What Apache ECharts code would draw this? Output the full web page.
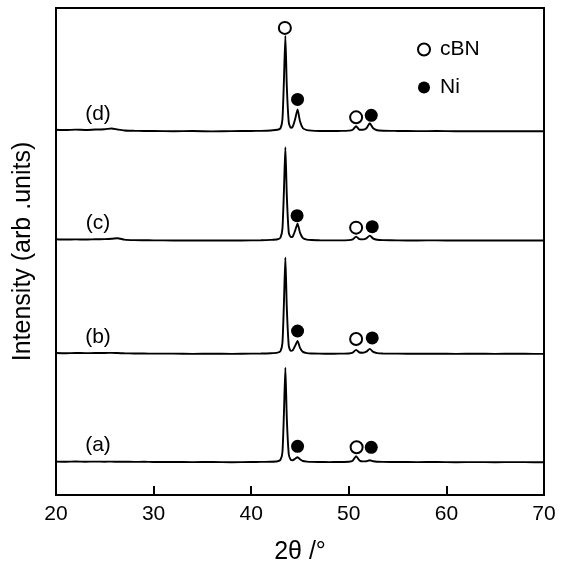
<!DOCTYPE html>
<html>
<head>
<meta charset="utf-8">
<script src="https://cdn.jsdelivr.net/npm/echarts@6/dist/echarts.min.js"></script>
<style>html,body{margin:0;padding:0;background:#fff}#c{width:570px;height:570px}</style>
</head>
<body>
<div id="c"></div>
<script>
// 2θ sampling grid shared by all four patterns
const twoTheta = [20,21,22,23,24,25,25.7,26.3,27,28,29,30,32,34,36,38,40,41,42,42.7,43.0,43.2,43.35,43.5,43.65,43.85,44.05,44.25,44.5,44.75,45.0,45.3,45.7,46.2,47,48,49,50,50.4,50.75,51.1,51.45,51.8,52.15,52.5,52.9,53.5,55,57,59,61,63,65,67,69,70];

// Intensities above each baseline (arb. units)
const intensityA = [0.6,0.4,0.7,0.5,0.6,0.5,0.6,0.4,0.5,0.3,0.4,0.2,0.3,0.1,0.2,0.0,0.2,0.3,0.5,1.0,2.5,10,48,95,44,8,2.5,2.0,3.5,5,3,1.2,0.6,0.3,0.2,0.1,0.2,0.4,1.5,6,1.8,0.8,1.0,2,1.0,0.5,0.3,0.2,0.1,0.2,0.0,0.1,0.0,0.1,0.0,0.0];
const intensityB = [0.8,0.6,0.9,0.7,0.8,0.9,1.0,0.8,0.6,0.4,0.3,0.2,0.2,0.0,0.1,0.0,0.2,0.3,0.6,1.2,2.8,11,50,97,46,8,3,3.5,8,13,6,2,0.8,0.4,0.2,0.1,0.2,0.4,1.2,4,1.4,1.2,2.2,5,2,0.8,0.4,0.2,0.1,0.2,0.0,0.1,0.0,0.1,0.0,0.0];
const intensityC = [1.3,1.0,1.2,1.0,1.3,1.5,1.8,2.4,1.0,0.4,0.3,0.2,0.1,0.0,0.1,0.0,0.2,0.3,0.7,1.3,3,12,49,94,45,8,3.5,4,10,17,8,2.5,1.0,0.5,0.3,0.2,0.2,0.4,1.2,4,1.4,1.2,2.2,5,2,0.8,0.4,0.2,0.1,0.2,0.0,0.1,0.0,0.1,0.0,0.0];
const intensityD = [1.5,1.2,1.6,1.3,1.7,2.0,2.8,1.8,0.8,0.5,0.3,0.2,0.0,0.2,-0.1,0.1,0.3,0.4,0.8,1.5,3,12,50,96,45,9,3.5,4.5,12,22,10,3,1.2,0.6,0.3,0.2,0.3,0.6,1.5,5,1.5,1.5,3,8,3,1,0.5,0.3,0.1,0.2,0.0,0.1,0.0,0.1,0.0,0.0];

const sampleNames = ['(a)','(b)','(c)','(d)'];
const baselines = [33, 142, 256, 366];
const labelPos = [[24.3, 17], [24.3, 17], [24.3, 17], [24.3, 17]];

// Phase markers: [2θ, height above baseline, sample index]
const cbnMarks = [[50.8,15,0],[50.75,15,1],[50.75,13,2],[50.75,14,3],[43.45,104,3]];
const niMarks = [[44.75,16,0],[52.3,15,0],[44.75,23,1],[52.4,16,1],[44.7,25,2],[52.4,14,2],[44.75,32,3],[52.3,16,3]];

const xTicks = [20,30,40,50,60,70];

const profiles = [intensityA, intensityB, intensityC, intensityD];
const font = '"Liberation Sans", Arial, sans-serif';

const series = profiles.map((arr, i) => ({
  type: 'line',
  name: sampleNames[i],
  data: twoTheta.map((t, k) => [t, baselines[i] + arr[k]]),
  showSymbol: false,
  smooth: 0.2,
  lineStyle: { color: '#000', width: 1.9 },
  silent: true,
  z: 2
}));

series.push({
  type: 'scatter',
  name: 'labels',
  data: sampleNames.map((n, i) => ({ name: n, value: [labelPos[i][0], baselines[i] + labelPos[i][1]] })),
  symbolSize: 0,
  itemStyle: { opacity: 1, color: '#000' },
  label: { show: true, formatter: p => p.name, position: 'inside', color: '#000', fontSize: 21, fontFamily: font },
  silent: true,
  z: 3
});

series.push({
  type: 'scatter',
  name: 'cBN',
  data: cbnMarks.map(m => [m[0], baselines[m[2]] + m[1]]),
  symbol: 'circle',
  symbolSize: 12,
  itemStyle: { color: '#fff', borderColor: '#000', borderWidth: 2, opacity: 1 },
  z: 4
});
series.push({
  type: 'scatter',
  name: 'Ni',
  data: niMarks.map(m => [m[0], baselines[m[2]] + m[1]]),
  symbol: 'circle',
  symbolSize: 13,
  itemStyle: { color: '#000', opacity: 1 },
  z: 4
});

const chart = echarts.init(document.getElementById('c'), null, { renderer: 'canvas' });
chart.setOption({
  animation: false,
  backgroundColor: '#fff',
  grid: { left: 56, right: 26, top: 8, bottom: 72, show: true, borderColor: '#000', borderWidth: 2, backgroundColor: 'transparent' },
  legend: {
    data: ['cBN', 'Ni'],
    orient: 'vertical',
    left: 412,
    top: 34,
    itemWidth: 12,
    itemHeight: 12,
    itemGap: 17,
    icon: 'circle',
    textStyle: { color: '#000', fontSize: 21, fontFamily: font, lineHeight: 20, padding: [0, 0, 0, 5] }
  },
  xAxis: {
    type: 'value',
    min: xTicks[0], max: xTicks[xTicks.length - 1], interval: 10,
    name: '2θ /°',
    nameLocation: 'middle',
    nameGap: 45,
    nameTextStyle: { color: '#000', fontSize: 25, fontFamily: font },
    axisLine: { lineStyle: { color: '#000', width: 2 } },
    axisTick: { inside: true, length: 9, lineStyle: { color: '#000', width: 2 } },
    axisLabel: { color: '#000', fontSize: 21, fontFamily: font, margin: 9 },
    splitLine: { show: false }
  },
  yAxis: {
    type: 'value',
    min: 0, max: 490,
    name: 'Intensity (arb .units)',
    nameLocation: 'middle',
    nameGap: 20,
    nameRotate: 90,
    nameTextStyle: { color: '#000', fontSize: 25, fontFamily: font },
    axisLine: { show: true, lineStyle: { color: '#000', width: 2 } },
    axisTick: { show: false },
    axisLabel: { show: false },
    splitLine: { show: false }
  },
  series: series
});
</script>
</body>
</html>
